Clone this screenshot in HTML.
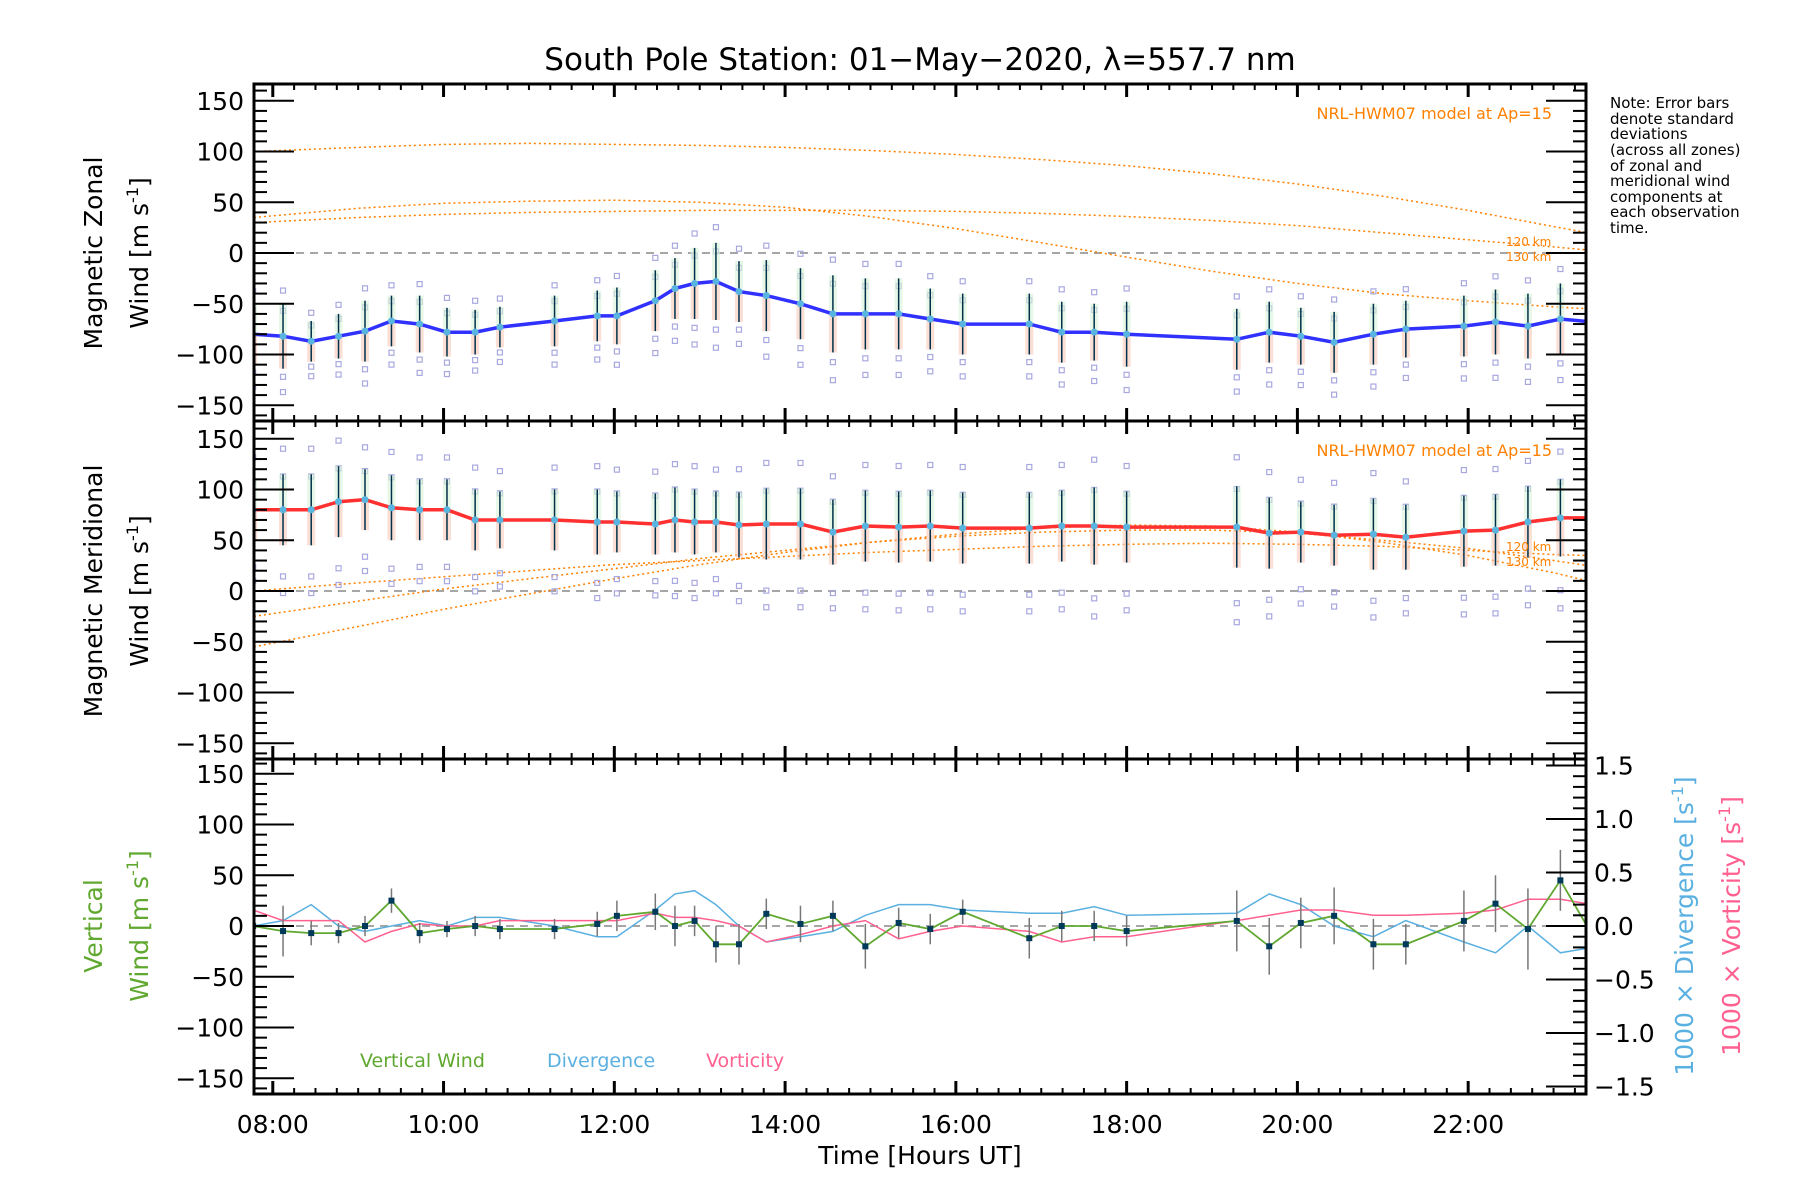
<!DOCTYPE html>
<html><head><meta charset="utf-8"><style>
body{margin:0;background:#fff;}
svg{display:block;font-family:"DejaVu Sans","Liberation Sans",sans-serif;}
</style></head><body>
<svg id="c" width="1800" height="1200" viewBox="0 0 1800 1200" xmlns="http://www.w3.org/2000/svg">
<text x="920" y="70" font-size="31" text-anchor="middle">South Pole Station: 01−May−2020, λ=557.7 nm</text>
<g id="g"></g>
</svg>
<script>
const times=[7.77,8.12,8.45,8.77,9.08,9.39,9.72,10.04,10.37,10.66,11.30,11.80,12.03,12.48,12.71,12.94,13.19,13.46,13.78,14.18,14.56,14.94,15.33,15.70,16.08,16.86,17.24,17.62,18.00,19.29,19.67,20.04,20.43,20.89,21.27,21.95,22.32,22.70,23.08,23.46];
const zonal=[-80,-82,-87,-82,-77,-67,-70,-78,-78,-73,-67,-62,-62,-47,-35,-30,-28,-38,-42,-50,-60,-60,-60,-65,-70,-70,-78,-78,-80,-85,-78,-82,-88,-80,-75,-72,-68,-72,-65,-68];
const zonalErr=[30,32,20,22,30,25,28,24,22,20,25,25,28,30,30,35,38,30,35,35,38,35,35,30,30,30,30,28,32,30,30,28,30,30,28,30,32,32,35,35];
const merid=[80,80,80,88,90,82,80,80,70,70,70,68,68,66,70,68,68,65,66,66,58,64,63,64,62,62,64,64,63,63,57,58,55,56,53,59,60,68,72,72];
const meridErr=[30,35,35,35,30,32,30,30,30,28,30,32,30,30,32,32,30,32,35,35,32,35,35,35,35,35,35,38,35,40,35,30,30,35,32,35,35,35,38,38];
const vert=[0,-5,-7,-7,0,25,-7,-3,0,-3,-3,2,10,14,0,5,-18,-18,12,2,10,-20,3,-3,14,-12,0,0,-5,5,-20,3,10,-18,-18,5,22,-3,45,-10];
const vertErr=[20,25,12,10,10,12,10,8,10,10,10,12,15,18,20,15,18,20,15,18,15,22,15,15,12,20,15,15,15,30,28,25,28,25,20,30,28,40,30,30];
const diverg=[0.0,0.05,0.2,0.0,-0.05,0.0,0.05,0.0,0.08,0.08,0.0,-0.1,-0.1,0.15,0.3,0.33,0.2,0.0,-0.15,-0.1,-0.05,0.1,0.2,0.2,0.15,0.12,0.12,0.18,0.1,0.12,0.3,0.2,0.0,-0.1,0.05,-0.15,-0.25,0.0,-0.25,-0.2];
const vortic=[0.15,0.05,0.05,0.05,-0.15,-0.05,0.02,0.0,0.0,0.05,0.05,0.05,0.05,0.12,0.08,0.08,0.05,0.0,-0.15,-0.08,0.0,0.05,-0.12,-0.05,0.0,-0.05,-0.15,-0.1,-0.1,0.05,0.1,0.15,0.15,0.1,0.1,0.12,0.15,0.25,0.25,0.2];
const modelHours=[7.78,9,10,11,12,13,14,15,16,17,18,19,20,21,22,23,23.4];
const zonalModelA=[100,104,107,108,107,106,104,101,97,92,86,78,68,56,42,26,20];
const zonalModelB=[35,44,49,51,52,50,45,36,24,10,-4,-18,-30,-40,-47,-53,-55];
const zonalModelC=[30,35,38,40,41,42,42,42,41,39,36,32,27,20,13,6,3];
const meridModelA=[-55,-35,-18,-3,12,26,38,48,56,62,65,64,58,48,35,18,10];
const meridModelB=[-25,-10,2,12,22,32,40,48,54,58,60,60,57,50,42,30,25];
const meridModelC=[0,8,14,20,26,30,34,38,41,44,46,47,46,44,40,36,35];
// zone scatter: deviations of individual zones from the mean (a few representative values)
const zoneDevZonal=[45,-40,25,-55];
const zoneDevMerid=[55,-60,30,-75];
const xTicks=[8,10,12,14,16,18,20,22];
const xTickLabels=["08:00","10:00","12:00","14:00","16:00","18:00","20:00","22:00"];
const yTicks=[150,100,50,0,-50,-100,-150];
const rTicks=[1.5,1.0,0.5,0.0,-0.5,-1.0,-1.5];

const L=254,R=1586,H0=7.78,H1=23.38;
const X=h=>L+(h-H0)/(H1-H0)*(R-L);
const panels=[{top:84,bot:421,zero:253},{top:421,bot:759,zero:591},{top:759,bot:1094,zero:926}];
const S=1.015;
const Y=(p,v)=>panels[p].zero-v*S;
const YR=v=>panels[2].zero-v*107;
const g=document.getElementById('g');
const NS='http://www.w3.org/2000/svg';
function mk(t,a,par){const e=document.createElementNS(NS,t);for(const k in a)e.setAttribute(k,a[k]);(par||g).appendChild(e);return e;}
function path(pts){return pts.map((p,i)=>(i?'L':'M')+p[0].toFixed(1)+' '+p[1].toFixed(1)).join(' ');}

const defs=mk('defs',{});
panels.forEach((p,i)=>{const cp=mk('clipPath',{id:'cp'+i},defs);mk('rect',{x:L,y:p.top,width:R-L,height:p.bot-p.top},cp);});

panels.forEach((p,i)=>{
  const pg=mk('g',{'clip-path':'url(#cp'+i+')'});
  
  
  const z=mk('line',{x1:L,x2:R,y1:p.zero,y2:p.zero,stroke:'#888','stroke-width':1.5,'stroke-dasharray':'8,6'},pg);
  
  
  p.g=pg;
});

function model(pi,arr,nm){
  const e=mk('path',{d:path(modelHours.map((h,i)=>[X(h),Y(pi,arr[i])])),fill:'none',stroke:'#ff8000','stroke-width':1.5,'stroke-dasharray':'2,3'},panels[pi].g);
  
  
}
model(0,zonalModelA,'zonal-model-curve');model(0,zonalModelB,'zonal-model-curve');model(0,zonalModelC,'zonal-model-curve');
model(1,meridModelA,'meridional-model-curve');model(1,meridModelB,'meridional-model-curve');model(1,meridModelC,'meridional-model-curve');

function windPanel(pi,vals,errs,dev,col,nm){
  const pg=panels[pi].g;
  times.forEach((h,i)=>{
    const x=X(h);
    dev.forEach((d,k)=>{
      const s=mk('rect',{x:x-2.5,y:Y(pi,vals[i]+d*(errs[i]/32))-2.5,width:5,height:5,fill:'none',stroke:'#a8a8e0','stroke-width':1.2},pg);
      
      
    });
    const b=mk('rect',{x:x-4,y:Y(pi,vals[i]+errs[i]),width:8,height:errs[i]*S,fill:'#d8f4d8',opacity:0.6},pg);
    
    
    const b2=mk('rect',{x:x-4,y:Y(pi,vals[i]),width:8,height:errs[i]*S,fill:'#f8c8b8',opacity:0.6},pg);
    
    
    const e=mk('line',{x1:x,x2:x,y1:Y(pi,vals[i]-errs[i]),y2:Y(pi,vals[i]+errs[i]),stroke:'#00304a','stroke-width':1.5},pg);
    
    
  });
  const l=mk('path',{d:path(times.map((h,i)=>[X(h),Y(pi,vals[i])])),fill:'none',stroke:col,'stroke-width':3.5},pg);
  
  
  times.forEach((h,i)=>{
    const c=mk('circle',{cx:X(h),cy:Y(pi,vals[i]),r:3.5,fill:'#5ab4e0'},pg);
    
    
  });
}
windPanel(0,zonal,zonalErr,zoneDevZonal,'#3030ff','zonal-wind-line');
windPanel(1,merid,meridErr,zoneDevMerid,'#ff3030','meridional-wind-line');

{
  const pg=panels[2].g;
  const dl=mk('path',{d:path(times.map((h,i)=>[X(h),YR(diverg[i])])),fill:'none',stroke:'#5ab0e0','stroke-width':1.5},pg);
  
  
  const vl=mk('path',{d:path(times.map((h,i)=>[X(h),YR(vortic[i])])),fill:'none',stroke:'#ff6090','stroke-width':1.5},pg);
  
  
  times.forEach((h,i)=>{
    const e=mk('line',{x1:X(h),x2:X(h),y1:Y(2,vert[i]-vertErr[i]),y2:Y(2,vert[i]+vertErr[i]),stroke:'#777','stroke-width':1.5},pg);
    
    
  });
  const gl=mk('path',{d:path(times.map((h,i)=>[X(h),Y(2,vert[i])])),fill:'none',stroke:'#60a830','stroke-width':1.8},pg);
  
  
  times.forEach((h,i)=>{
    const m=mk('rect',{x:X(h)-3,y:Y(2,vert[i])-3,width:6,height:6,fill:'#003a5a'},pg);
    
    
  });
}

panels.forEach((p,pi)=>{
  const fr=mk('rect',{x:L,y:p.top,width:R-L,height:p.bot-p.top,fill:'none',stroke:'#000','stroke-width':3});
  
  
  for(let h=8;h<=23.25;h+=0.25){
    const x=X(h);const maj=Math.abs(h-Math.round(h/2)*2)<1e-6;const len=maj?13:6;
    mk('line',{x1:x,x2:x,y1:p.top,y2:p.top+len,stroke:'#000','stroke-width':maj?3:2});
    mk('line',{x1:x,x2:x,y1:p.bot,y2:p.bot-len,stroke:'#000','stroke-width':maj?3:2});
  }
  for(let v=-160;v<=160;v+=10){
    const y=Y(pi,v);if(y<p.top+1||y>p.bot-1)continue;const maj=v%50===0;const len=maj?40:13;
    mk('line',{x1:L,x2:L+len,y1:y,y2:y,stroke:'#000','stroke-width':2});
    if(pi<2)mk('line',{x1:R,x2:R-len,y1:y,y2:y,stroke:'#000','stroke-width':2});
  }
  yTicks.forEach(v=>{
    const t=mk('text',{x:L-10,y:Y(pi,v)+9,'font-size':25,'text-anchor':'end'});
    t.textContent=(v<0?'−':'')+Math.abs(v);
    
    
  });
});
for(let v=-1.5;v<=1.501;v+=0.1){
  const y=YR(v);if(y<panels[2].top+1||y>panels[2].bot-1)continue;const maj=Math.abs(v*2-Math.round(v*2))<1e-6;
  mk('line',{x1:R,x2:R-(maj?40:13),y1:y,y2:y,stroke:'#000','stroke-width':2});
}
rTicks.forEach(v=>{
  const t=mk('text',{x:R+8,y:YR(v)+9,'font-size':25});
  t.textContent=(v<0?'−':'')+Math.abs(v).toFixed(1);
  
  
});
xTicks.forEach((h,i)=>{
  const t=mk('text',{x:X(h),y:1133,'font-size':25,'text-anchor':'middle'});
  t.textContent=xTickLabels[i];
  
  
});
</script>
<svg style="position:absolute;left:0;top:0" width="1800" height="1200" xmlns="http://www.w3.org/2000/svg">
<g font-family="DejaVu Sans, Liberation Sans, sans-serif">
<text x="920" y="1164" font-size="25" text-anchor="middle">Time [Hours UT]</text>
<text transform="translate(102,253) rotate(-90)" font-size="25" text-anchor="middle">Magnetic Zonal</text>
<text transform="translate(148,253) rotate(-90)" font-size="25" text-anchor="middle">Wind [m s<tspan font-size="16" dy="-10">-1</tspan><tspan dy="10">]</tspan></text>
<text transform="translate(102,591) rotate(-90)" font-size="25" text-anchor="middle">Magnetic Meridional</text>
<text transform="translate(148,591) rotate(-90)" font-size="25" text-anchor="middle">Wind [m s<tspan font-size="16" dy="-10">-1</tspan><tspan dy="10">]</tspan></text>
<text transform="translate(102,926) rotate(-90)" font-size="25" fill="#60a830" text-anchor="middle">Vertical</text>
<text transform="translate(148,926) rotate(-90)" font-size="25" fill="#60a830" text-anchor="middle">Wind [m s<tspan font-size="16" dy="-10">-1</tspan><tspan dy="10">]</tspan></text>
<text transform="translate(1693,926) rotate(-90)" font-size="25" fill="#5ab0e0" text-anchor="middle">1000 × Divergence [s<tspan font-size="16" dy="-10">-1</tspan><tspan dy="10">]</tspan></text>
<text transform="translate(1740,926) rotate(-90)" font-size="25" fill="#ff6090" text-anchor="middle">1000 × Vorticity [s<tspan font-size="16" dy="-10">-1</tspan><tspan dy="10">]</tspan></text>
<text x="360" y="1067" font-size="19" fill="#60a830">Vertical Wind</text>
<text x="547" y="1067" font-size="19" fill="#5ab0e0">Divergence</text>
<text x="706" y="1067" font-size="19" fill="#ff6090">Vorticity</text>
<text x="1552" y="119" font-size="16" fill="#ff8000" text-anchor="end">NRL-HWM07 model at Ap=15</text>
<text x="1552" y="456" font-size="16" fill="#ff8000" text-anchor="end">NRL-HWM07 model at Ap=15</text>
<text x="1506" y="246" font-size="12" fill="#ff8000">120 km</text>
<text x="1506" y="261" font-size="12" fill="#ff8000">130 km</text>
<text x="1506" y="551" font-size="12" fill="#ff8000">120 km</text>
<text x="1506" y="566" font-size="12" fill="#ff8000">130 km</text>
<g font-size="15">
<text x="1610" y="108">Note: Error bars</text>
<text x="1610" y="124">denote standard</text>
<text x="1610" y="139">deviations</text>
<text x="1610" y="155">(across all zones)</text>
<text x="1610" y="171">of zonal and</text>
<text x="1610" y="186">meridional wind</text>
<text x="1610" y="202">components at</text>
<text x="1610" y="217">each observation</text>
<text x="1610" y="233">time.</text>
</g>
</g>
</svg>
</body></html>
